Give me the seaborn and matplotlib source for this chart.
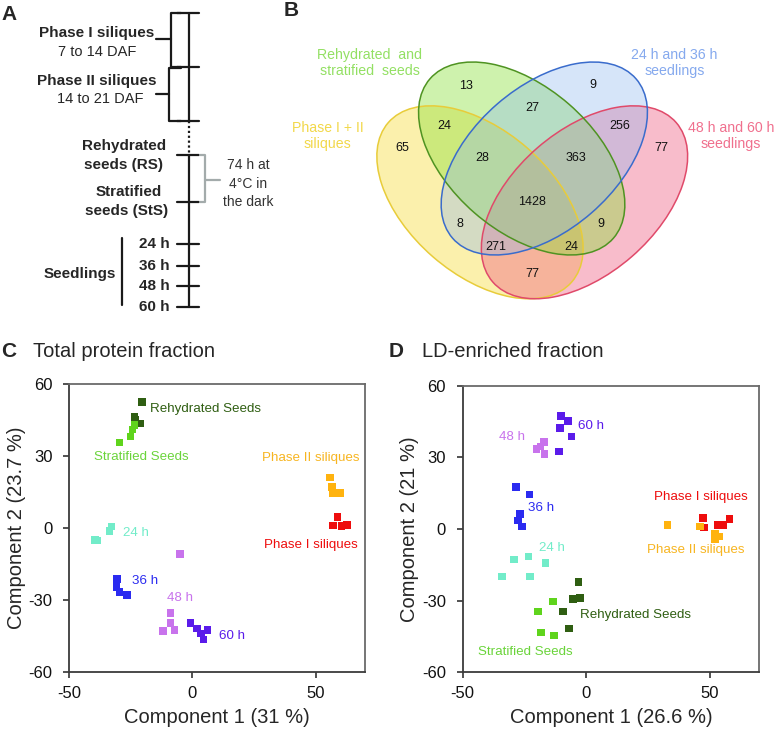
import matplotlib
matplotlib.use("Agg")
import matplotlib.pyplot as plt
import seaborn as sns
import numpy as np
import pandas as pd
from matplotlib.patches import Ellipse

# ---------------- Data ----------------
# Panel B: Venn region counts
venn_counts = [13, 9, 27, 24, 256, 65, 77, 28, 363, 1428, 8, 9, 271, 24, 77]
venn_sets = ["Rehydrated  and\nstratified  seeds", "24 h and 36 h\nseedlings",
             "Phase I + II\nsiliques", "48 h and 60 h\nseedlings"]

# Panel C: total protein fraction PCA
tp_group = (["Rehydrated Seeds"] * 4 + ["Stratified Seeds"] * 4 + ["Phase II siliques"] * 4 +
            ["Phase I siliques"] * 4 + ["24 h"] * 4 + ["36 h"] * 4 + ["48 h"] * 5 + ["60 h"] * 5)
tp_comp1 = [-20.5, -23.5, -21.0, -23.0,
            -29.5, -25.0, -24.2, -23.4,
            55.7, 56.6, 56.8, 59.9,
            58.8, 57.0, 60.4, 62.8,
            -39.5, -38.6, -32.7, -33.6,
            -30.5, -30.8, -29.6, -26.4,
            -4.9, -8.8, -8.9, -11.8, -7.2,
            -0.8, 1.8, 3.5, 4.5, 6.2]
tp_comp2 = [52.5, 46.3, 43.5, 45.0,
            35.6, 38.2, 41.0, 43.0,
            21.1, 17.1, 14.3, 14.6,
            4.6, 1.1, 0.8, 1.3,
            -5.1, -5.2, 0.7, -1.2,
            -21.2, -24.5, -26.7, -27.9,
            -10.8, -35.3, -39.6, -42.8, -42.4,
            -39.6, -41.8, -44.0, -46.5, -42.4]

# Panel D: LD-enriched fraction PCA
ld_group = (["60 h"] * 5 + ["48 h"] * 4 + ["36 h"] * 5 + ["24 h"] * 5 + ["Rehydrated Seeds"] * 5 +
            ["Stratified Seeds"] * 4 + ["Phase I siliques"] * 5 + ["Phase II siliques"] * 5)
ld_comp1 = [-10.1, -7.3, -10.5, -5.9, -10.9,
            -17.1, -18.5, -20.1, -16.8,
            -28.3, -23.0, -26.7, -27.6, -26.0,
            -29.2, -23.4, -16.4, -34.2, -22.8,
            -3.1, -5.4, -2.4, -9.4, -6.9,
            -13.5, -19.5, -18.3, -13.1,
            47.2, 47.8, 53.4, 55.7, 58.0,
            32.9, 46.0, 52.3, 54.0, 52.2]
ld_comp2 = [47.3, 45.2, 42.3, 38.7, 32.5,
            36.3, 34.5, 33.4, 31.3,
            17.6, 14.4, 6.3, 3.5, 1.0,
            -12.7, -11.5, -14.2, -19.9, -19.9,
            -22.3, -29.4, -28.8, -34.6, -41.7,
            -30.4, -34.6, -43.3, -44.6,
            4.6, 0.7, 1.7, 1.8, 4.1,
            1.8, 1.1, -2.2, -3.2, -4.2]

x_ticks = [-50, 0, 50]
y_ticks = [-60, -30, 0, 30, 60]

# ---------------- Style ----------------
sns.set_style("white")
plt.rcParams['font.family'] = ['Liberation Sans', 'DejaVu Sans']
plt.rcParams['axes.unicode_minus'] = False

palette = {
    "Rehydrated Seeds": "#2f5e12",
    "Stratified Seeds": "#5fd41c",
    "Phase II siliques": "#ffb30f",
    "Phase I siliques": "#ee0d0d",
    "24 h": "#72ecc9",
    "36 h": "#2b2bf0",
    "48 h": "#c873ec",
    "60 h": "#5a1bea",
}
label_colors = dict(palette)
label_colors["Stratified Seeds"] = "#6ad43a"
label_colors["Phase II siliques"] = "#f7b521"

W, H = 778, 731
fig = plt.figure(figsize=(W / 100, H / 100), dpi=100)

# overlay axes in pixel coordinates for panels A and B
ov = fig.add_axes([0, 0, 1, 1])
ov.set_xlim(0, W)
ov.set_ylim(H, 0)
ov.axis("off")
ov.patch.set_visible(False)

# ---------------- Panel A ----------------
k = "#1a1a1a"
ov.text(1, 14, "A", fontsize=15, fontweight="bold", ha="left", va="center")
lx = 189
ov.plot([lx, lx], [13.3, 120.7], color=k, lw=1.6)
ov.plot([lx, lx], [120.7, 155], color=k, lw=1.6, ls=(0, (1, 1.2)))
ov.plot([lx, lx], [155, 306.7], color=k, lw=1.6)
for ty in [13.3, 67.3, 120.7, 155, 202.3, 244.3, 265.7, 286, 306.7]:
    ov.plot([176.7, 199.3], [ty, ty], color=k, lw=1.6)
# siliques brackets
ov.plot([181, 171, 171, 181], [13.3, 13.3, 66.5, 66.5], color=k, lw=1.6)
ov.plot([156, 171], [39.3, 39.3], color=k, lw=1.6)
ov.plot([181, 169.3, 169.3, 181], [68.3, 68.3, 120.5, 120.5], color=k, lw=1.6)
ov.plot([156, 169.3], [94.3, 94.3], color=k, lw=1.6)
ov.text(154, 33.5, "Phase I siliques", fontsize=11, fontweight="bold", ha="right", va="center")
ov.text(97, 52, "7 to 14 DAF", fontsize=10.5, ha="center", va="center")
ov.text(156.5, 81, "Phase II siliques", fontsize=11, fontweight="bold", ha="right", va="center")
ov.text(100, 99, "14 to 21 DAF", fontsize=10.5, ha="center", va="center")
ov.text(124.5, 146, "Rehydrated", fontsize=11, fontweight="bold", ha="center", va="center")
ov.text(124, 164.5, "seeds (RS)", fontsize=11, fontweight="bold", ha="center", va="center")
ov.text(128.5, 192.5, "Stratified", fontsize=11, fontweight="bold", ha="center", va="center")
ov.text(126.7, 211, "seeds (StS)", fontsize=11, fontweight="bold", ha="center", va="center")
g = "#a3abab"
ov.plot([200, 205, 205, 200], [155, 155, 202.3, 202.3], color=g, lw=1.6)
ov.plot([205, 220], [180, 180], color=g, lw=1.6)
ov.text(248.5, 165, "74 h at", fontsize=10, ha="center", va="center", color="#333333")
ov.text(248.5, 184.3, "4°C in", fontsize=10, ha="center", va="center", color="#333333")
ov.text(248.5, 202.5, "the dark", fontsize=10, ha="center", va="center", color="#333333")
ov.plot([122.3, 122.3], [238.3, 305], color=k, lw=1.6)
ov.text(80, 274, "Seedlings", fontsize=11, fontweight="bold", ha="center", va="center")
for lab, ty in zip(["24 h", "36 h", "48 h", "60 h"], [244.3, 265.7, 286, 306.7]):
    ov.text(169.5, ty, lab, fontsize=11, fontweight="bold", ha="right", va="center")

# ---------------- Panel B ----------------
ov.text(284, 11, "B", fontsize=15, fontweight="bold", ha="left", va="center")
a_px, b_px, ang = 243, 144, 41
ell_specs = [  # (cx, cy, angle, face, edge, alpha)
    (480.0, 202.3, ang, "#f7dc3a", "#e8cc3a", 0.42),   # Phase I+II
    (584.5, 202.3, -ang, "#f06085", "#e04a6a", 0.42),  # 48/60 h
    (521.7, 158.5, ang, "#86e034", "#4f9322", 0.40),   # Rehydrated/stratified
    (544.3, 158.5, -ang, "#8cb6f0", "#3a6ccc", 0.35),  # 24/36 h
]
for cx, cy, an, fc, ec, al in ell_specs:
    ov.add_patch(Ellipse((cx, cy), a_px, b_px, angle=an, facecolor=fc, alpha=al,
                         edgecolor="none", zorder=2))
    ov.add_patch(Ellipse((cx, cy), a_px, b_px, angle=an, facecolor="none",
                         edgecolor=ec, lw=1.1, zorder=3))
venn_pos = [(465.7, 85.7), (593.3, 85), (532.3, 107.7), (444, 125.7), (620, 125.7),
            (402.7, 147.7), (661.7, 147.7), (482.3, 158.3), (576, 158.3), (532.3, 202.3),
            (460, 224.3), (601, 224.3), (495.7, 246.7), (571, 246.7), (532.3, 274.3)]
for (px, py), n in zip(venn_pos, venn_counts):
    ov.text(px, py, str(n), fontsize=9, ha="center", va="center", color="#111111", zorder=5)
set_pos = [(370, 63, "#93e063"), (674.3, 63, "#85a9ee"), (327.7, 136, "#f2d84a"), (730.7, 136, "#f0708e")]
for (px, py, c), s in zip(set_pos, venn_sets):
    ov.text(px, py, s, fontsize=10.2, ha="center", va="center", color=c, linespacing=1.25, zorder=5)

# ---------------- Panels C & D ----------------
tp = pd.DataFrame({"group": tp_group, "comp1": tp_comp1, "comp2": tp_comp2})
ld = pd.DataFrame({"group": ld_group, "comp1": ld_comp1, "comp2": ld_comp2})

axC = fig.add_axes([69 / W, 1 - 672 / H, (365 - 69) / W, (672 - 384) / H])
axD = fig.add_axes([462.7 / W, 1 - 672.3 / H, (759 - 462.7) / W, (672.3 - 385.7) / H])

labels_C = {"Rehydrated Seeds": (-17.2, 49.7), "Stratified Seeds": (-39.9, 29.6),
            "Phase II siliques": (28.1, 29.0), "Phase I siliques": (29.2, -7.0),
            "24 h": (-28.2, -2.1), "36 h": (-24.6, -22.0), "48 h": (-10.4, -29.2), "60 h": (10.8, -44.9)}
labels_D = {"60 h": (-3.5, 43.3), "48 h": (-35.3, 38.5), "36 h": (-23.7, 9.0), "24 h": (-19.0, -7.8),
            "Phase I siliques": (27.4, 13.3), "Phase II siliques": (24.7, -8.9),
            "Rehydrated Seeds": (-2.6, -36.2), "Stratified Seeds": (-43.7, -51.3)}

for ax, df, labs, xl, yl in [(axC, tp, labels_C, "Component 1 (31 %)", "Component 2 (23.7 %)"),
                             (axD, ld, labels_D, "Component 1 (26.6 %)", "Component 2 (21 %)")]:
    sns.scatterplot(data=df, x="comp1", y="comp2", hue="group", palette=palette, marker="s",
                    s=30, linewidth=0, legend=False, ax=ax, zorder=3)
    for name, (tx, ty) in labs.items():
        ax.text(tx, ty, name, fontsize=9.6, color=label_colors[name], ha="left", va="center")
    ax.set_xlim(-50, 70)
    ax.set_ylim(-60, 60)
    ax.set_xticks(x_ticks)
    ax.set_yticks(y_ticks)
    ax.set_xlabel(xl, fontsize=14.5, labelpad=5)
    ax.set_ylabel(yl, fontsize=14.5, labelpad=2)
    ax.tick_params(axis="both", direction="out", length=4, width=1.2, colors="#333333",
                   labelsize=12, labelcolor="#111111", bottom=True, left=True)
    ax.tick_params(axis="x", pad=6)
    ax.tick_params(axis="y", pad=8)
    for sp in ax.spines.values():
        sp.set_color("#3c3c3c")
        sp.set_linewidth(1.3)
    ax.spines["right"].set_color("#6a6a6a")
    ax.spines["top"].set_color("#6a6a6a")

fig.text(1 / W, 1 - 351.5 / H, "C", fontsize=15, fontweight="bold", ha="left", va="center")
fig.text(33 / W, 1 - 351.5 / H, "Total protein fraction", fontsize=14.5, ha="left", va="center")
fig.text(389 / W, 1 - 351.5 / H, "D", fontsize=15, fontweight="bold", ha="left", va="center")
fig.text(421.5 / W, 1 - 351.5 / H, "LD-enriched fraction", fontsize=14.5, ha="left", va="center")

fig.savefig("out.png", dpi=100)
